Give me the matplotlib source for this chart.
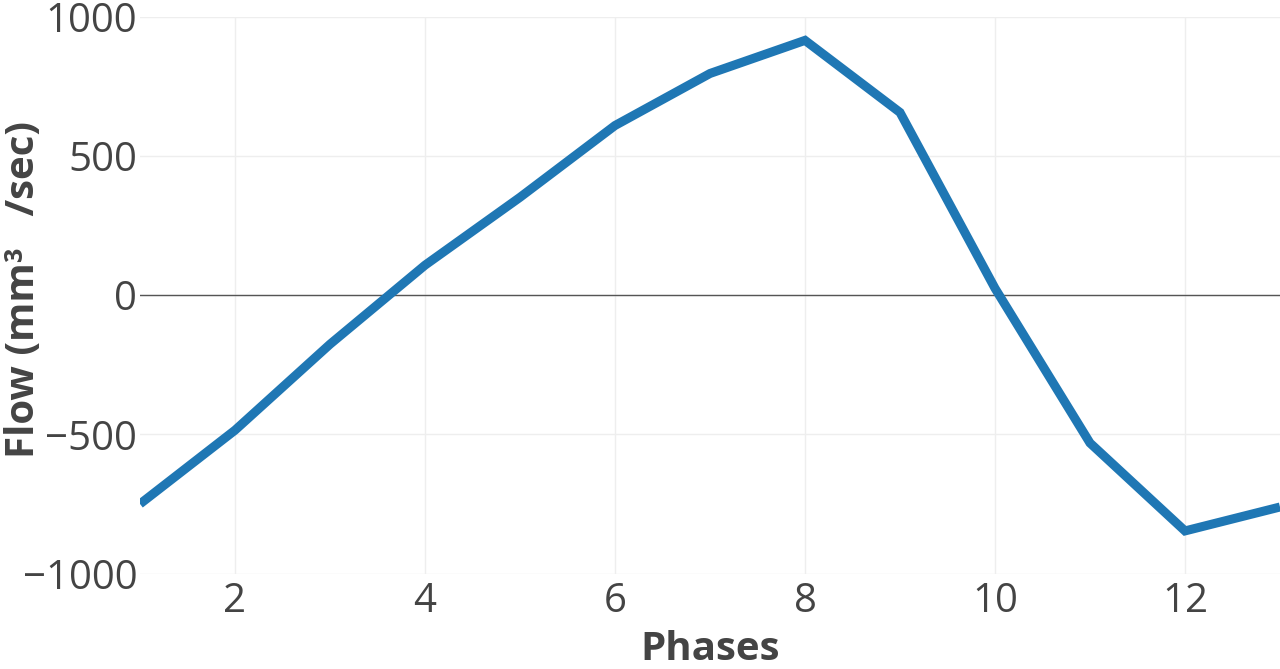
import matplotlib
matplotlib.use("Agg")
import matplotlib.pyplot as plt

phases = [1, 2, 3, 4, 5, 6, 7, 8, 9, 10, 11, 12, 13]
flow = [-750, -485, -176, 108, 352, 610, 797, 916, 657, 25, -531, -847, -761]
x_ticks = [2, 4, 6, 8, 10, 12]
y_ticks = [-1000, -500, 0, 500, 1000]
y_tick_labels = ["\u22121000", "\u2212500", "0", "500", "1000"]

plt.rcParams['font.family'] = ['Open Sans', 'DejaVu Sans']

W, H = 1280, 669
fig = plt.figure(figsize=(W / 100, H / 100), dpi=100)
left_px, top_px, bottom_px = 140, 17, 573.5
ax = fig.add_axes([left_px / W, 1 - bottom_px / H, 1 - left_px / W, (bottom_px - top_px) / H])

ax.plot(phases, flow, color='#1f77b4', linewidth=6.5, solid_joinstyle='miter',
        solid_capstyle='butt', zorder=3)
ax.axhline(0, color='#555555', linewidth=1.0, zorder=2)

ax.set_xlim(1, 13)
ax.set_ylim(-1000, 1000)
ax.set_xticks(x_ticks)
ax.set_xticklabels([str(t) for t in x_ticks])
ax.set_yticks(y_ticks)
ax.set_yticklabels(y_tick_labels)
ax.grid(True, color='#eeeeee', linewidth=1.0, zorder=0)
ax.set_axisbelow(True)
for s in ax.spines.values():
    s.set_visible(False)
ax.tick_params(axis='both', length=0, labelsize=29, colors='#444444')
ax.tick_params(axis='x', pad=6)
ax.tick_params(axis='y', pad=2)

ax.set_xlabel('Phases', fontsize=29, fontweight='bold', color='#444444')
ax.set_ylabel('Flow (mm\u00b3   /sec)', fontsize=29, fontweight='bold', color='#444444')
ax.xaxis.label.set_va('center')
ax.yaxis.label.set_va('center')
ax.xaxis.set_label_coords(0.5, (bottom_px - 650) / (bottom_px - top_px))
ax.yaxis.set_label_coords((24 - left_px) / (W - left_px), (bottom_px - 289) / (bottom_px - top_px))

fig.savefig('out.png', dpi=100, facecolor='white')
